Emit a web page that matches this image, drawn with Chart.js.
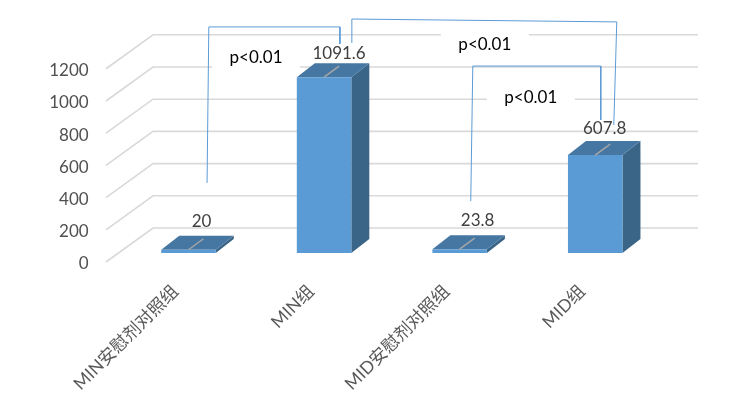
<!DOCTYPE html>
<html>
<head>
<meta charset="utf-8">
<script src="https://cdn.jsdelivr.net/npm/chart.js@4/dist/chart.umd.min.js"></script>
<style>
  html, body { margin: 0; padding: 0; background: #fff; }
  canvas { display: block; }
</style>
</head>
<body>
<canvas id="chart" width="754" height="407"></canvas>
<script>
const categories = ["MIN安慰剂对照组", "MIN组", "MID安慰剂对照组", "MID组"];
const values = [20, 1091.6, 23.8, 607.8];
const yTicks = [0, 200, 400, 600, 800, 1000, 1200];

// significance brackets, x in category index, y in axis value
const bracketA = [{ x: 0.137, y: 491 }, { x: 0.15, y: 1460 }, { x: 1.117, y: 1460 }, { x: 1.117, y: 1354 }];
const bracketB = [{ x: 1.205, y: 1360 }, { x: 1.205, y: 1509 }, { x: 3.159, y: 1491 }, { x: 3.137, y: 851 }];
const bracketC = [{ x: 2.082, y: 379 }, { x: 2.097, y: 1217 }, { x: 3.041, y: 1217 }, { x: 3.041, y: 882 }];
const pNotes = [
  { x: 0.498, y: 1267, text: "p<0.01" },
  { x: 2.186, y: 1348, text: "p<0.01" },
  { x: 2.525, y: 1019, text: "p<0.01" }
];

const FONT = '"Lato", "Noto Sans CJK SC", sans-serif';
const BAR_DX = 18, BAR_DY = 14;
// value labels were hand placed in the original, so each one sits a bit differently
const LABEL_DX = [13, 15, 18, 9.5];
const LABEL_DY = [28, 24, 29, 27];

function bracket(data) {
  return {
    type: "line",
    data: data,
    xAxisID: "xNote",
    yAxisID: "y",
    borderColor: "#5B9BD5",
    borderWidth: 1,
    pointRadius: 0,
    tension: 0,
    clip: false,
    order: 1
  };
}

// keep the plot area where the reference has it, whatever the label sizes
function noPadding(s) {
  s.paddingLeft = s.paddingRight = s.paddingTop = s.paddingBottom = 0;
}

// Fake 3D: back wall grid, floor diagonals, white boxes behind the notes, bar sides
const wallPlugin = {
  id: "wall",
  beforeDatasetsDraw(chart) {
    const { ctx, chartArea, scales } = chart;
    const frontX = chartArea.left - 14.7;
    const backX = chartArea.left + 32.3;
    const endX = chartArea.right + 35;
    ctx.save();
    ctx.strokeStyle = "#D9D9D9";
    ctx.lineWidth = 1.6;
    yTicks.forEach((v) => {
      const back = scales.yBack.getPixelForValue(v);
      const front = scales.y.getPixelForValue(v);
      ctx.beginPath();
      ctx.moveTo(frontX, front);
      ctx.lineTo(backX, back);
      ctx.lineTo(endX, back);
      ctx.stroke();
    });
    ctx.fillStyle = "#fff";
    pNotes.forEach((n) => {
      const x = scales.xNote.getPixelForValue(n.x);
      const y = scales.y.getPixelForValue(n.y);
      ctx.fillRect(x - 44, y - 15, 88, 30);
    });
    chart.getDatasetMeta(0).data.forEach((bar) => {
      const left = bar.x - bar.width / 2;
      const right = bar.x + bar.width / 2;
      ctx.fillStyle = "#3A6587";
      ctx.beginPath();
      ctx.moveTo(right, bar.y);
      ctx.lineTo(right + BAR_DX, bar.y - BAR_DY);
      ctx.lineTo(right + BAR_DX, bar.base - BAR_DY);
      ctx.lineTo(right, bar.base);
      ctx.closePath();
      ctx.fill();
      ctx.fillStyle = "#4676A2";
      ctx.beginPath();
      ctx.moveTo(left, bar.y);
      ctx.lineTo(left + BAR_DX, bar.y - BAR_DY);
      ctx.lineTo(right + BAR_DX, bar.y - BAR_DY);
      ctx.lineTo(right, bar.y);
      ctx.closePath();
      ctx.fill();
    });
    ctx.restore();
  },
  afterDatasetsDraw(chart) {
    const { ctx, scales } = chart;
    ctx.save();
    ctx.textAlign = "center";
    ctx.textBaseline = "middle";
    ctx.font = "17px " + FONT;
    chart.getDatasetMeta(0).data.forEach((bar, i) => {
      // leader line on the top face
      ctx.strokeStyle = "#A6A6A6";
      ctx.lineWidth = 1.5;
      ctx.beginPath();
      ctx.moveTo(bar.x, bar.y);
      ctx.lineTo(bar.x + 15, bar.y - 11);
      ctx.stroke();
      ctx.fillStyle = "#404040";
      ctx.fillText(String(values[i]), bar.x + LABEL_DX[i], bar.y - LABEL_DY[i]);
    });
    ctx.fillStyle = "#000";
    pNotes.forEach((n) => {
      ctx.fillText(n.text, scales.xNote.getPixelForValue(n.x), scales.y.getPixelForValue(n.y));
    });
    ctx.restore();
  }
};

new Chart(document.getElementById("chart"), {
  type: "bar",
  plugins: [wallPlugin],
  data: {
    labels: categories,
    datasets: [
      {
        data: values,
        yAxisID: "yBar",
        backgroundColor: "#5B9BD5",
        grouped: false,
        categoryPercentage: 1,
        barPercentage: 0.402,
        order: 2
      },
      bracket(bracketA),
      bracket(bracketB),
      bracket(bracketC)
    ]
  },
  options: {
    responsive: false,
    animation: false,
    layout: { padding: { top: 10, right: 91, left: 0, bottom: 0 } },
    plugins: { legend: { display: false }, tooltip: { enabled: false }, title: { display: false } },
    scales: {
      x: {
        grid: { display: false },
        border: { display: false },
        afterFit: (s) => { s.height = 145; noPadding(s); },
        ticks: {
          autoSkip: false,
          maxRotation: 45,
          minRotation: 45,
          labelOffset: -13,
          padding: 11,
          color: "#595959",
          font: { family: FONT, size: 17.5 }
        }
      },
      xNote: { type: "linear", display: false, offset: false, min: -0.5, max: 3.5 },
      y: {
        min: 0,
        max: 1565,
        grid: { display: false },
        border: { display: false },
        afterFit: (s) => { s.width = 120.7; noPadding(s); },
        afterBuildTicks: (s) => { s.ticks = yTicks.map((v) => ({ value: v })); },
        ticks: {
          padding: 24,
          labelOffset: 2,
          color: "#505050",
          font: { family: FONT, size: 17 },
          callback: (v) => String(v)
        }
      },
      // same scale shifted for the bars' floor position and for the back wall
      yBar: { display: false, min: -56, max: 1509 },
      yBack: { display: false, min: -211, max: 1354 }
    }
  }
});
</script>
</body>
</html>
